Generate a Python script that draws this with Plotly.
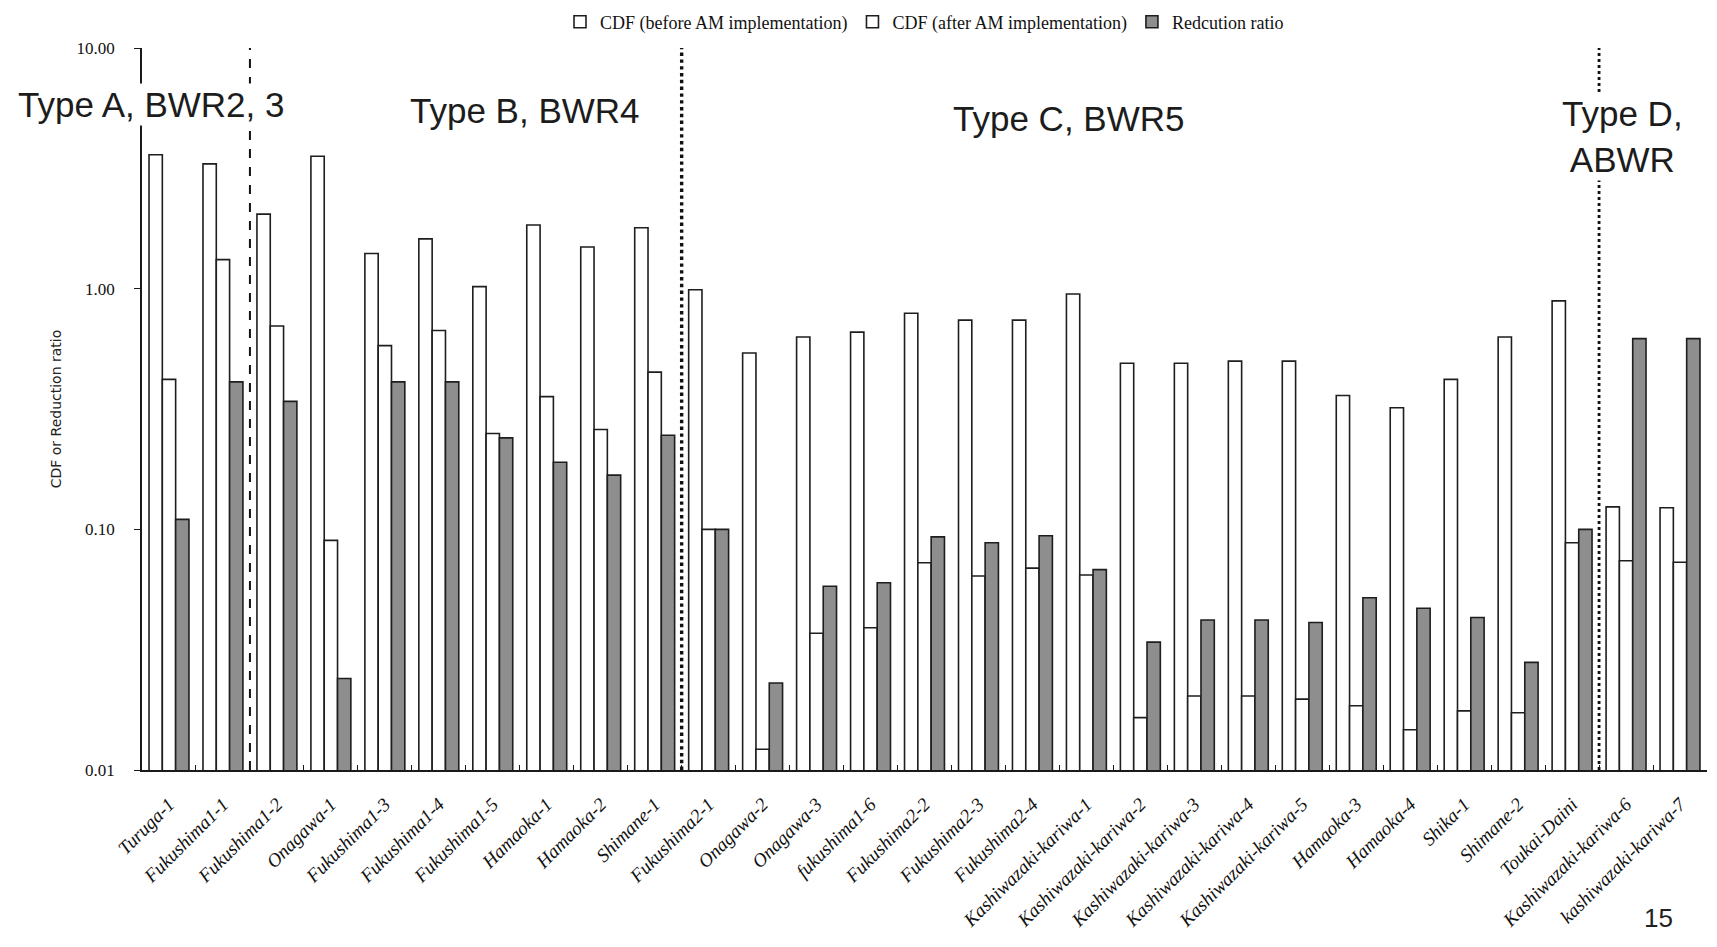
import plotly.graph_objects as go

# ---- data ----
plants = ["Turuga-1", "Fukushima1-1", "Fukushima1-2", "Onagawa-1", "Fukushima1-3",
          "Fukushima1-4", "Fukushima1-5", "Hamaoka-1", "Hamaoka-2", "Shimane-1",
          "Fukushima2-1", "Onagawa-2", "Onagawa-3", "fukushima1-6", "Fukushima2-2",
          "Fukushima2-3", "Fukushima2-4", "Kashiwazaki-kariwa-1", "Kashiwazaki-kariwa-2",
          "Kashiwazaki-kariwa-3", "Kashiwazaki-kariwa-4", "Kashiwazaki-kariwa-5",
          "Hamaoka-3", "Hamaoka-4", "Shika-1", "Shimane-2", "Toukai-Daini",
          "Kashiwazaki-kariwa-6", "kashiwazaki-kariwa-7"]

cdf_before = [3.6, 3.3, 2.04, 3.55, 1.40, 1.61, 1.02, 1.84, 1.49, 1.79,
              0.99, 0.54, 0.63, 0.66, 0.79, 0.74, 0.74, 0.95, 0.49,
              0.49, 0.50, 0.50, 0.36, 0.32, 0.42, 0.63, 0.89,
              0.124, 0.123]

cdf_after = [0.42, 1.32, 0.70, 0.090, 0.58, 0.67, 0.25, 0.356, 0.26, 0.45,
             0.10, 0.0122, 0.037, 0.039, 0.0726, 0.064, 0.069, 0.0646, 0.0165,
             0.0203, 0.0203, 0.0197, 0.0185, 0.0147, 0.0176, 0.0173, 0.088,
             0.074, 0.073]

reduction_ratio = [0.11, 0.41, 0.34, 0.024, 0.41, 0.41, 0.24, 0.19, 0.168, 0.246,
                   0.10, 0.023, 0.058, 0.060, 0.093, 0.088, 0.094, 0.068, 0.034,
                   0.042, 0.042, 0.041, 0.052, 0.047, 0.043, 0.028, 0.10,
                   0.62, 0.62]

series_names = ["CDF (before AM implementation)", "CDF (after AM implementation)",
                "Redcution ratio"]

y_tick_values = [0.01, 0.1, 1, 10]
y_tick_labels = ["0.01", "0.10", "1.00", "10.00"]

# first plant of each reactor-type group (types B, C, D)
group_starts = ["Fukushima1-2", "Fukushima2-1", "Kashiwazaki-kariwa-6"]
group_labels = ["Type A, BWR2, 3", "Type B, BWR4", "Type C, BWR5", "Type D,<br>ABWR"]

# ---- figure ----
fig = go.Figure()
fills = ["white", "white", "#8e8e8e"]
for name, vals, fill in zip(series_names, [cdf_before, cdf_after, reduction_ratio], fills):
    fig.add_trace(go.Bar(
        x=plants, y=vals, name=name,
        marker=dict(color=fill, line=dict(color="#1e1e1e", width=1.6)),
    ))

axis_range = [-2, 1]
# the page body adds an 8 px offset, so the figure is 8 px smaller on each axis
fig.update_layout(
    width=1709, height=939,
    margin=dict(l=134, r=10, t=40, b=177, autoexpand=False),
    paper_bgcolor="white", plot_bgcolor="white",
    barmode="group", bargap=0.26, bargroupgap=0,
    showlegend=True,
    legend=dict(orientation="h", x=0.50, xanchor="center", y=1.036, yanchor="middle",
                font=dict(family="Liberation Serif", size=18, color="#111"),
                itemwidth=30, tracegroupgap=0, bgcolor="rgba(0,0,0,0)"),
    xaxis=dict(
        type="category", tickangle=-45, automargin=False,
        tickfont=dict(family="Liberation Serif", size=19, color="#111", style="italic"),
        ticklabelstandoff=14,
        showline=True, linecolor="#1a1a1a", linewidth=1.6,
        ticks="inside", tickson="boundaries", ticklen=5, tickcolor="#1a1a1a",
        showgrid=False, zeroline=False,
    ),
    yaxis=dict(
        type="log", range=axis_range, automargin=False,
        tickvals=y_tick_values, ticktext=y_tick_labels,
        tickfont=dict(family="Liberation Serif", size=17, color="#111"),
        ticks="outside", ticklen=6, tickcolor="#1a1a1a", ticklabelstandoff=16,
        showline=True, linecolor="#1a1a1a", linewidth=1.6,
        showgrid=False, zeroline=False,
        title=dict(text="CDF or Reduction ratio", standoff=12,
                   font=dict(family="DejaVu Sans", size=14, color="#222")),
    ),
    yaxis2=dict(
        type="log", range=axis_range, overlaying="y",
        tickvals=[0.1, 1], showticklabels=False, ticks="",
        showgrid=True, gridcolor="#2a2a2a", gridwidth=1.4,
        showline=False, zeroline=False,
    ),
    yaxis3=dict(
        type="log", range=axis_range, overlaying="y",
        tickvals=[10], showticklabels=False, ticks="",
        showgrid=True, gridcolor="#8a8a8a", gridwidth=1.4, griddash="dot",
        showline=False, zeroline=False,
    ),
)

# group separators
dashes = ["dash", "dot", "dot"]
widths = [2, 3.4, 2.8]
for start, dash, w in zip(group_starts, dashes, widths):
    xpos = plants.index(start) - 0.5
    fig.add_shape(type="line", xref="x", yref="paper", x0=xpos, x1=xpos, y0=0, y1=1,
                  line=dict(color="#111", width=w, dash=dash), layer="above")

# group labels
label_pos = [(0.006, 0.922), (0.245, 0.913), (0.592, 0.903), (0.946, 0.877)]
for text, (px, py) in zip(group_labels, label_pos):
    fig.add_annotation(text=text, xref="paper", yref="paper", x=px, y=py,
                       xanchor="center", yanchor="middle", showarrow=False,
                       font=dict(family="Liberation Sans", size=35, color="#1c1c1c"),
                       bgcolor="white", align="center")

fig.add_annotation(text="15", xref="paper", yref="paper", x=0.969, y=-0.205,
                   xanchor="center", yanchor="middle", showarrow=False,
                   font=dict(family="Liberation Sans", size=26, color="#222"))

fig.write_html("out.html")
